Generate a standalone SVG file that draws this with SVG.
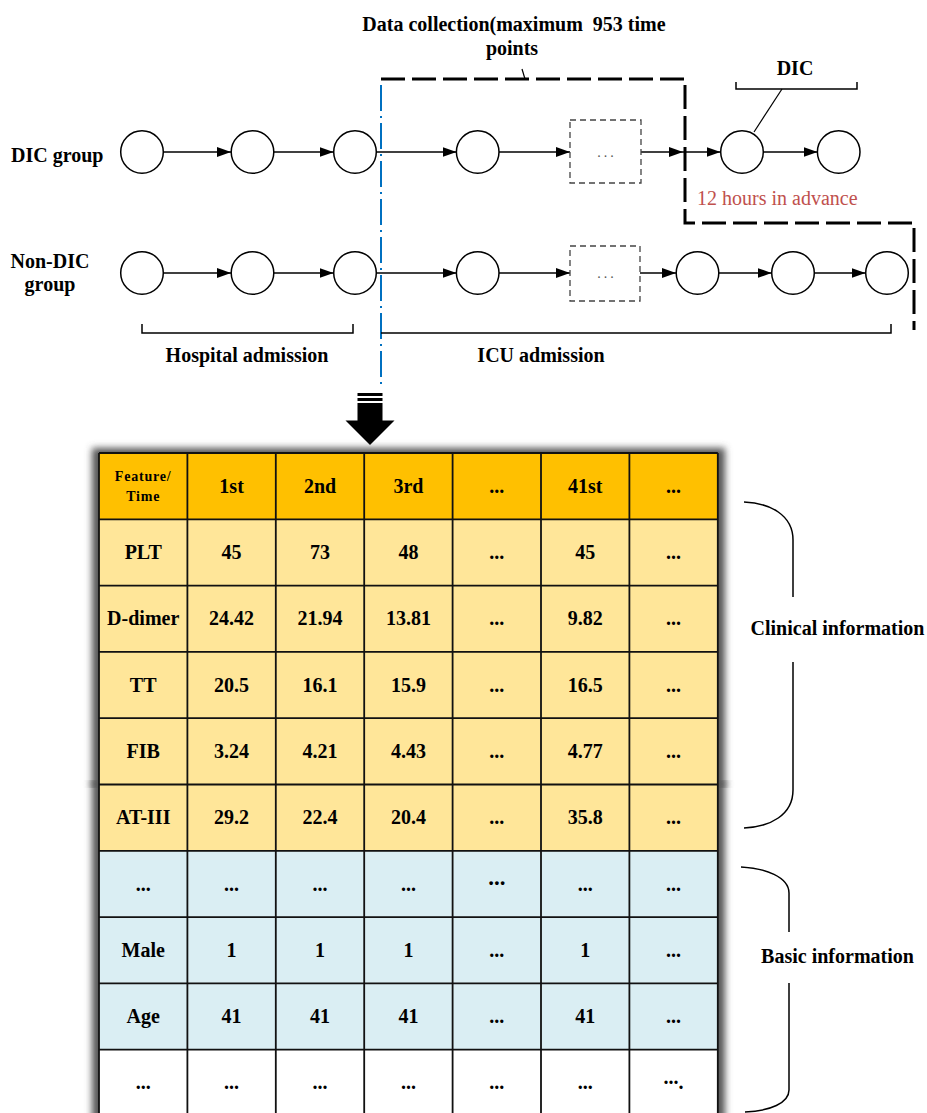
<svg xmlns="http://www.w3.org/2000/svg" width="927" height="1113" viewBox="0 0 927 1113">
  <defs>
    <style>
      .lbl { font-family: "Liberation Serif", "Times New Roman", serif; font-weight: bold; font-size: 20px; fill: #000; }
      .mid { text-anchor: middle; }
      .red { font-family: "Liberation Serif", "Times New Roman", serif; font-size: 20px; fill: #C0504D; }
      .node { fill: #fff; stroke: #000; stroke-width: 1.5; }
      .gap { fill: #fff; stroke: #444; stroke-width: 1.3; stroke-dasharray: 6 4; }
      .gapdots { font-family: "Liberation Serif", serif; font-size: 14px; fill: #555; text-anchor: middle; letter-spacing: 3px; }
      .flow { stroke: #000; stroke-width: 1.3; fill: none; marker-end: url(#head); }
      .brk { stroke: #000; stroke-width: 1.5; fill: none; }
      .grid { stroke: #111; stroke-width: 1.8; fill: none; }
      .cell { font-family: "Liberation Serif", "Times New Roman", serif; font-weight: bold; font-size: 20px; text-anchor: middle; fill: #000; }
      .hdr { fill: #FFC000; }
      .clin { fill: #FFE699; }
      .basic { fill: #DAEEF3; }
      .blank { fill: #fff; }
    </style>
    <marker id="head" markerUnits="userSpaceOnUse" markerWidth="15" markerHeight="11" refX="14" refY="5" orient="auto">
      <path d="M0,0 L14,5 L0,10 z" fill="#000"/>
    </marker>
    <filter id="soft" x="-10%" y="-10%" width="120%" height="120%">
      <feGaussianBlur stdDeviation="3.5"/>
    </filter>
  </defs>

  <rect width="927" height="1113" fill="#fff"/>

  <!-- collection window (thick dashed outline) -->
  <path d="M381,79 H685 V223 H914 V330" fill="none" stroke="#000" stroke-width="3" stroke-dasharray="24 7"/>
  <line x1="522" y1="69" x2="525" y2="79" stroke="#000" stroke-width="1.2"/>
  <text class="lbl mid" x="514" y="31">Data collection(maximum&#160; 953 time</text>
  <text class="lbl mid" x="512" y="55">points</text>

  <!-- admission split (blue dash-dot) -->
  <line x1="381" y1="85" x2="381" y2="388" stroke="#0070C0" stroke-width="2" stroke-dasharray="26 5 2 5"/>

  <!-- row labels -->
  <text class="lbl" x="11" y="162">DIC group</text>
  <text class="lbl mid" x="50" y="268">Non-DIC</text>
  <text class="lbl mid" x="50" y="291">group</text>

  <!-- DIC onset bracket -->
  <g id="dic-label">
    <path class="brk" d="M736,82 V89 H857 V82"/>
    <line x1="782" y1="89" x2="754" y2="132" stroke="#000" stroke-width="1.2"/>
    <text class="lbl mid" x="795" y="75">DIC</text>
  </g>
  <text class="red" x="697" y="205">12 hours in advance</text>

  <!-- connectors -->
  <g id="connectors">
    <line class="flow" x1="163.5" y1="152" x2="231" y2="152"/>
    <line class="flow" x1="274" y1="152" x2="333.5" y2="152"/>
    <line class="flow" x1="376.5" y1="152" x2="456.5" y2="152"/>
    <line class="flow" x1="499" y1="152" x2="570" y2="152"/>
    <line class="flow" x1="641" y1="152" x2="683" y2="152"/>
    <line class="flow" x1="683" y1="152" x2="720.5" y2="152"/>
    <line class="flow" x1="763.5" y1="152" x2="817.5" y2="152"/>

    <line class="flow" x1="163.5" y1="273" x2="231" y2="273"/>
    <line class="flow" x1="274" y1="273" x2="333.5" y2="273"/>
    <line class="flow" x1="376.5" y1="273" x2="456.5" y2="273"/>
    <line class="flow" x1="499" y1="273" x2="570" y2="273"/>
    <line class="flow" x1="640" y1="273" x2="676" y2="273"/>
    <line class="flow" x1="719" y1="273" x2="771.5" y2="273"/>
    <line class="flow" x1="814.5" y1="273" x2="865.5" y2="273"/>
  </g>

  <!-- DIC group time points -->
  <g id="dic-t1"><circle class="node" cx="142" cy="152" r="21.3"/></g>
  <g id="dic-t2"><circle class="node" cx="252.5" cy="152" r="21.3"/></g>
  <g id="dic-t3"><circle class="node" cx="355" cy="152" r="21.3"/></g>
  <g id="dic-t4"><circle class="node" cx="477.7" cy="152" r="21.3"/></g>
  <g id="dic-gap"><rect class="gap" x="570" y="120" width="71" height="63"/><text class="gapdots" x="607" y="157">...</text></g>
  <g id="dic-t5"><circle class="node" cx="742" cy="152" r="21.3"/></g>
  <g id="dic-t6"><circle class="node" cx="838.7" cy="152" r="21.3"/></g>

  <!-- Non-DIC group time points -->
  <g id="non-t1"><circle class="node" cx="142" cy="273" r="21.3"/></g>
  <g id="non-t2"><circle class="node" cx="252.5" cy="273" r="21.3"/></g>
  <g id="non-t3"><circle class="node" cx="355" cy="273" r="21.3"/></g>
  <g id="non-t4"><circle class="node" cx="477.7" cy="273" r="21.3"/></g>
  <g id="non-gap"><rect class="gap" x="570" y="246" width="70" height="55"/><text class="gapdots" x="607" y="278">...</text></g>
  <g id="non-t5"><circle class="node" cx="697.5" cy="273" r="21.3"/></g>
  <g id="non-t6"><circle class="node" cx="793" cy="273" r="21.3"/></g>
  <g id="non-t7"><circle class="node" cx="887" cy="273" r="21.3"/></g>

  <!-- phase brackets -->
  <g id="phase-hospital">
    <path class="brk" d="M142,324 V333 H353 V324"/>
    <text class="lbl mid" x="247" y="362">Hospital admission</text>
  </g>
  <g id="phase-icu">
    <path class="brk" d="M381,333 H891 V324"/>
    <text class="lbl mid" x="541" y="362">ICU admission</text>
  </g>

  <!-- block arrow down to the data table -->
  <g id="down-arrow">
    <rect x="357.5" y="393" width="25" height="3" fill="#000"/>
    <rect x="357.5" y="398" width="25" height="3" fill="#000"/>
    <path d="M357.5,403 H382.5 V420.5 H394.5 L370,445 L345.5,420.5 H357.5 Z" fill="#000"/>
  </g>

  <!-- data table -->
  <g id="data-table">
    <rect x="92" y="448" width="633" height="680" fill="#555" filter="url(#soft)"/>
    <rect x="91" y="781" width="635" height="6" fill="#555" filter="url(#soft)"/>

    <rect class="hdr" x="99" y="453" width="618.8" height="66.3"/>
    <rect class="clin" x="99" y="519.3" width="618.8" height="331.5"/>
    <rect class="basic" x="99" y="850.8" width="618.8" height="198.9"/>
    <rect class="blank" x="99" y="1049.7" width="618.8" height="70"/>

    <path class="grid" d="M99,453 H717.8 M99,519.3 H717.8 M99,585.6 H717.8 M99,651.9 H717.8 M99,718.2 H717.8 M99,784.5 H717.8 M99,850.8 H717.8 M99,917.1 H717.8 M99,983.4 H717.8 M99,1049.7 H717.8"/>
    <path class="grid" d="M99,453 V1120 M187.4,453 V1120 M275.8,453 V1120 M364.2,453 V1120 M452.6,453 V1120 M541,453 V1120 M629.4,453 V1120 M717.8,453 V1120"/>

    <!-- header -->
    <text class="cell" x="143.2" y="481" style="font-size:14px;letter-spacing:0.8px">Feature/</text>
    <text class="cell" x="143.2" y="501" style="font-size:14px;letter-spacing:0.8px">Time</text>
    <text class="cell" x="231.6" y="492.6">1st</text>
    <text class="cell" x="320" y="492.6">2nd</text>
    <text class="cell" x="408.4" y="492.6">3rd</text>
    <text class="cell" x="496.8" y="492.6">...</text>
    <text class="cell" x="585.2" y="492.6">41st</text>
    <text class="cell" x="673.6" y="492.6">...</text>

    <!-- PLT -->
    <text class="cell" x="143.2" y="559">PLT</text>
    <text class="cell" x="231.6" y="559">45</text>
    <text class="cell" x="320" y="559">73</text>
    <text class="cell" x="408.4" y="559">48</text>
    <text class="cell" x="496.8" y="559">...</text>
    <text class="cell" x="585.2" y="559">45</text>
    <text class="cell" x="673.6" y="559">...</text>

    <!-- D-dimer -->
    <text class="cell" x="143.2" y="625.3">D-dimer</text>
    <text class="cell" x="231.6" y="625.3">24.42</text>
    <text class="cell" x="320" y="625.3">21.94</text>
    <text class="cell" x="408.4" y="625.3">13.81</text>
    <text class="cell" x="496.8" y="625.3">...</text>
    <text class="cell" x="585.2" y="625.3">9.82</text>
    <text class="cell" x="673.6" y="625.3">...</text>

    <!-- TT -->
    <text class="cell" x="143.2" y="691.6">TT</text>
    <text class="cell" x="231.6" y="691.6">20.5</text>
    <text class="cell" x="320" y="691.6">16.1</text>
    <text class="cell" x="408.4" y="691.6">15.9</text>
    <text class="cell" x="496.8" y="691.6">...</text>
    <text class="cell" x="585.2" y="691.6">16.5</text>
    <text class="cell" x="673.6" y="691.6">...</text>

    <!-- FIB -->
    <text class="cell" x="143.2" y="757.9">FIB</text>
    <text class="cell" x="231.6" y="757.9">3.24</text>
    <text class="cell" x="320" y="757.9">4.21</text>
    <text class="cell" x="408.4" y="757.9">4.43</text>
    <text class="cell" x="496.8" y="757.9">...</text>
    <text class="cell" x="585.2" y="757.9">4.77</text>
    <text class="cell" x="673.6" y="757.9">...</text>

    <!-- AT-III -->
    <text class="cell" x="143.2" y="824.2">AT-III</text>
    <text class="cell" x="231.6" y="824.2">29.2</text>
    <text class="cell" x="320" y="824.2">22.4</text>
    <text class="cell" x="408.4" y="824.2">20.4</text>
    <text class="cell" x="496.8" y="824.2">...</text>
    <text class="cell" x="585.2" y="824.2">35.8</text>
    <text class="cell" x="673.6" y="824.2">...</text>

    <!-- omitted features -->
    <text class="cell" x="143.2" y="890.5">...</text>
    <text class="cell" x="231.6" y="890.5">...</text>
    <text class="cell" x="320" y="890.5">...</text>
    <text class="cell" x="408.4" y="890.5">...</text>
    <text class="cell" x="496.8" y="885" style="font-size:23px">...</text>
    <text class="cell" x="585.2" y="890.5">...</text>
    <text class="cell" x="673.6" y="890.5">...</text>

    <!-- Male -->
    <text class="cell" x="143.2" y="956.8">Male</text>
    <text class="cell" x="231.6" y="956.8">1</text>
    <text class="cell" x="320" y="956.8">1</text>
    <text class="cell" x="408.4" y="956.8">1</text>
    <text class="cell" x="496.8" y="956.8">...</text>
    <text class="cell" x="585.2" y="956.8">1</text>
    <text class="cell" x="673.6" y="956.8">...</text>

    <!-- Age -->
    <text class="cell" x="143.2" y="1023.1">Age</text>
    <text class="cell" x="231.6" y="1023.1">41</text>
    <text class="cell" x="320" y="1023.1">41</text>
    <text class="cell" x="408.4" y="1023.1">41</text>
    <text class="cell" x="496.8" y="1023.1">...</text>
    <text class="cell" x="585.2" y="1023.1">41</text>
    <text class="cell" x="673.6" y="1023.1">...</text>

    <!-- trailing row -->
    <text class="cell" x="143.2" y="1089.4">...</text>
    <text class="cell" x="231.6" y="1089.4">...</text>
    <text class="cell" x="320" y="1089.4">...</text>
    <text class="cell" x="408.4" y="1089.4">...</text>
    <text class="cell" x="496.8" y="1089.4">...</text>
    <text class="cell" x="585.2" y="1089.4">...</text>
    <text class="cell" x="673.6" y="1089.4"><tspan dy="-5">...</tspan><tspan dy="5">.</tspan></text>
  </g>

  <!-- grouping braces -->
  <g id="brace-clinical">
    <path class="brk" d="M744,502 C770,503 793,515 793,540 V597 M793,662 V790 C793,815 770,827 744,828"/>
    <text class="lbl mid" x="837.5" y="635">Clinical information</text>
  </g>
  <g id="brace-basic">
    <path class="brk" d="M741,867 C765,868 789,877 789,893 V932 M789,983 V1090 C789,1103 770,1111 745,1112"/>
    <text class="lbl mid" x="837.5" y="963">Basic information</text>
  </g>
</svg>
